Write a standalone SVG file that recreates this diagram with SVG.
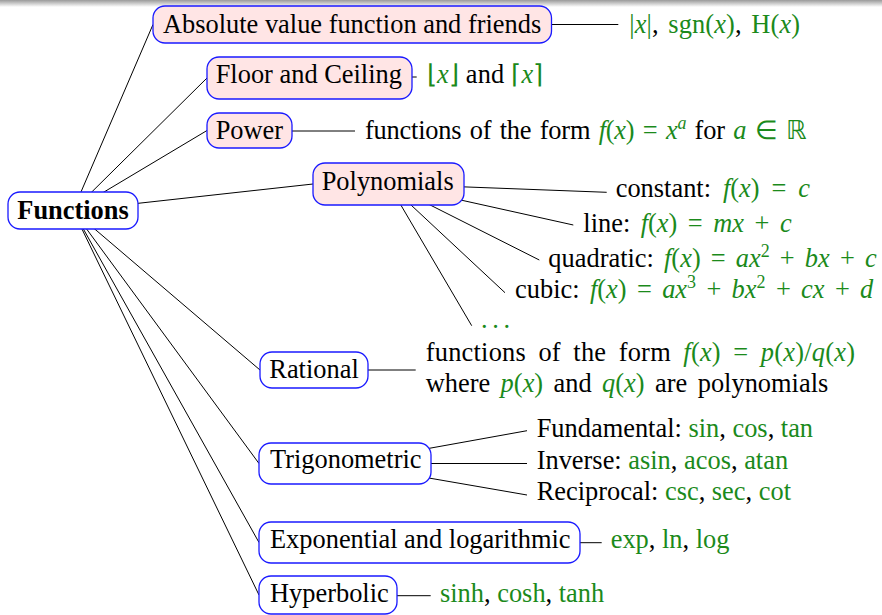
<svg xmlns="http://www.w3.org/2000/svg" width="882" height="615" viewBox="0 0 882 615">
<defs>
<linearGradient id="topShade" x1="0" y1="0" x2="0" y2="1">
<stop offset="0" stop-color="#9a9a9a"/>
<stop offset="1" stop-color="#ffffff"/>
</linearGradient>
</defs>
<style>
text{font-family:"Liberation Serif","Times New Roman",serif;font-size:26.4px;fill:#000}
.g{fill:#1b8a1b}
.i{font-style:italic}
.sup{font-size:18px}
.node rect{stroke:#1a1aff;stroke-width:1.3}
.pink rect{fill:#ffe5e5}
.white rect{fill:#ffffff}
#connectors line{stroke:#000;stroke-width:1}
.root text{font-weight:bold}
</style>
<rect x="0" y="0" width="882" height="7" fill="url(#topShade)"/>
<g id="connectors">
<line x1="73" y1="210.5" x2="153" y2="24.5"/>
<line x1="73" y1="210.5" x2="207" y2="78"/>
<line x1="73" y1="210.5" x2="207" y2="130.5"/>
<line x1="73" y1="210.5" x2="313" y2="184"/>
<line x1="73" y1="210.5" x2="260" y2="370"/>
<line x1="73" y1="210.5" x2="259" y2="463.5"/>
<line x1="73" y1="210.5" x2="259" y2="542.5"/>
<line x1="73" y1="210.5" x2="259" y2="595"/>
<line x1="551" y1="24.5" x2="618.3" y2="24.5"/>
<line x1="412" y1="77" x2="416.7" y2="77"/>
<line x1="292" y1="131" x2="355" y2="131"/>
<line x1="388.5" y1="184" x2="606.7" y2="192.3"/>
<line x1="388.5" y1="184" x2="573.3" y2="225"/>
<line x1="388.5" y1="184" x2="539.3" y2="260"/>
<line x1="388.5" y1="184" x2="505" y2="292.7"/>
<line x1="388.5" y1="184" x2="471.7" y2="325.7"/>
<line x1="368" y1="370" x2="415.7" y2="370"/>
<line x1="345" y1="463.5" x2="527" y2="430.7"/>
<line x1="345" y1="463.5" x2="527" y2="463.5"/>
<line x1="345" y1="463.5" x2="527" y2="495"/>
<line x1="580" y1="542.7" x2="601.7" y2="542.7"/>
<line x1="397" y1="595.7" x2="430.7" y2="595.7"/>
</g>
<g id="functions" class="node white root">
<rect x="8" y="192" width="130" height="37" rx="12"/>
<text x="17.3" y="218.5">Functions</text>
</g>
<g id="absolute" class="node pink">
<rect x="153" y="6" width="398.5" height="37" rx="12"/>
<text x="163" y="33.3">Absolute value function and friends</text>
</g>
<g id="absolute-leaf">
<text x="629.3" y="33.3" word-spacing="3" textLength="170.7" lengthAdjust="spacing"><tspan class="g">|<tspan class="i">x</tspan>|</tspan>, <tspan class="g">sgn(<tspan class="i">x</tspan>)</tspan>, <tspan class="g">H(<tspan class="i">x</tspan>)</tspan></text>
</g>
<g id="floor" class="node pink">
<rect x="207" y="57" width="205" height="42" rx="12"/>
<text x="215.7" y="83.3">Floor and Ceiling</text>
</g>
<g id="floor-leaf">
<text x="426.7" y="83.3" textLength="116.6" lengthAdjust="spacing"><tspan class="g">⌊<tspan class="i">x</tspan>⌋</tspan> and <tspan class="g">⌈<tspan class="i">x</tspan>⌉</tspan></text>
</g>
<g id="power" class="node pink">
<rect x="207" y="113" width="85" height="35" rx="12"/>
<text x="215.7" y="139.3">Power</text>
</g>
<g id="power-leaf">
<text x="365" y="139.3" word-spacing="2" textLength="441.7" lengthAdjust="spacing">functions of the form <tspan class="g"><tspan class="i">f</tspan>(<tspan class="i">x</tspan>) = <tspan class="i">x<tspan class="sup" dy="-10">a</tspan></tspan></tspan><tspan dy="10"> for </tspan><tspan class="g"><tspan class="i">a</tspan> ∈ ℝ</tspan></text>
</g>
<g id="polynomials" class="node pink">
<rect x="313" y="163" width="151" height="42" rx="12"/>
<text x="321.7" y="190">Polynomials</text>
</g>
<g id="poly-constant">
<text x="615.7" y="197.3" word-spacing="5.3" textLength="194.3" lengthAdjust="spacing">constant: <tspan class="g"><tspan class="i">f</tspan>(<tspan class="i">x</tspan>) = <tspan class="i">c</tspan></tspan></text>
</g>
<g id="poly-line">
<text x="583.3" y="231.7" word-spacing="3.9" textLength="208.3" lengthAdjust="spacing">line: <tspan class="g"><tspan class="i">f</tspan>(<tspan class="i">x</tspan>) = <tspan class="i">mx</tspan> + <tspan class="i">c</tspan></tspan></text>
</g>
<g id="poly-quadratic">
<text x="548.3" y="267.3" word-spacing="3.5" textLength="328.3" lengthAdjust="spacing">quadratic: <tspan class="g"><tspan class="i">f</tspan>(<tspan class="i">x</tspan>) = <tspan class="i">ax</tspan><tspan class="sup" dy="-10">2</tspan><tspan dy="10"> + </tspan><tspan class="i">bx</tspan> + <tspan class="i">c</tspan></tspan></text>
</g>
<g id="poly-cubic">
<text x="515" y="298.3" word-spacing="3.7" textLength="358.3" lengthAdjust="spacing">cubic: <tspan class="g"><tspan class="i">f</tspan>(<tspan class="i">x</tspan>) = <tspan class="i">ax</tspan><tspan class="sup" dy="-10">3</tspan><tspan dy="10"> + </tspan><tspan class="i">bx</tspan><tspan class="sup" dy="-10">2</tspan><tspan dy="10"> + </tspan><tspan class="i">cx</tspan> + <tspan class="i">d</tspan></tspan></text>
</g>
<g id="poly-dots">
<text x="481" y="328" class="g" textLength="29" lengthAdjust="spacing">. . .</text>
</g>
<g id="rational" class="node white">
<rect x="260" y="352" width="108" height="36" rx="12"/>
<text x="269.3" y="378.3">Rational</text>
</g>
<g id="rational-leaf">
<text x="425.7" y="360.7" word-spacing="5.6" textLength="429.3" lengthAdjust="spacing">functions of the form <tspan class="g"><tspan class="i">f</tspan>(<tspan class="i">x</tspan>) = <tspan class="i">p</tspan>(<tspan class="i">x</tspan>)/<tspan class="i">q</tspan>(<tspan class="i">x</tspan>)</tspan></text>
<text x="425.7" y="391.7" word-spacing="3.8" textLength="402.6" lengthAdjust="spacing">where <tspan class="g"><tspan class="i">p</tspan>(<tspan class="i">x</tspan>)</tspan> and <tspan class="g"><tspan class="i">q</tspan>(<tspan class="i">x</tspan>)</tspan> are polynomials</text>
</g>
<g id="trigonometric" class="node white">
<rect x="259" y="443" width="172" height="41" rx="12"/>
<text x="270" y="468.3">Trigonometric</text>
</g>
<g id="trig-fundamental">
<text x="536.7" y="437.3">Fundamental: <tspan class="g">sin</tspan>, <tspan class="g">cos</tspan>, <tspan class="g">tan</tspan></text>
</g>
<g id="trig-inverse">
<text x="536.7" y="469">Inverse: <tspan class="g">asin</tspan>, <tspan class="g">acos</tspan>, <tspan class="g">atan</tspan></text>
</g>
<g id="trig-reciprocal">
<text x="536.7" y="500">Reciprocal: <tspan class="g">csc</tspan>, <tspan class="g">sec</tspan>, <tspan class="g">cot</tspan></text>
</g>
<g id="exponential" class="node white">
<rect x="259" y="522" width="321" height="41" rx="12"/>
<text x="270" y="548.3">Exponential and logarithmic</text>
</g>
<g id="exp-leaf">
<text x="610.7" y="548.3"><tspan class="g">exp</tspan>, <tspan class="g">ln</tspan>, <tspan class="g">log</tspan></text>
</g>
<g id="hyperbolic" class="node white">
<rect x="259" y="576" width="138" height="38" rx="12"/>
<text x="270" y="601.7">Hyperbolic</text>
</g>
<g id="hyp-leaf">
<text x="440" y="601.7"><tspan class="g">sinh</tspan>, <tspan class="g">cosh</tspan>, <tspan class="g">tanh</tspan></text>
</g>
</svg>
